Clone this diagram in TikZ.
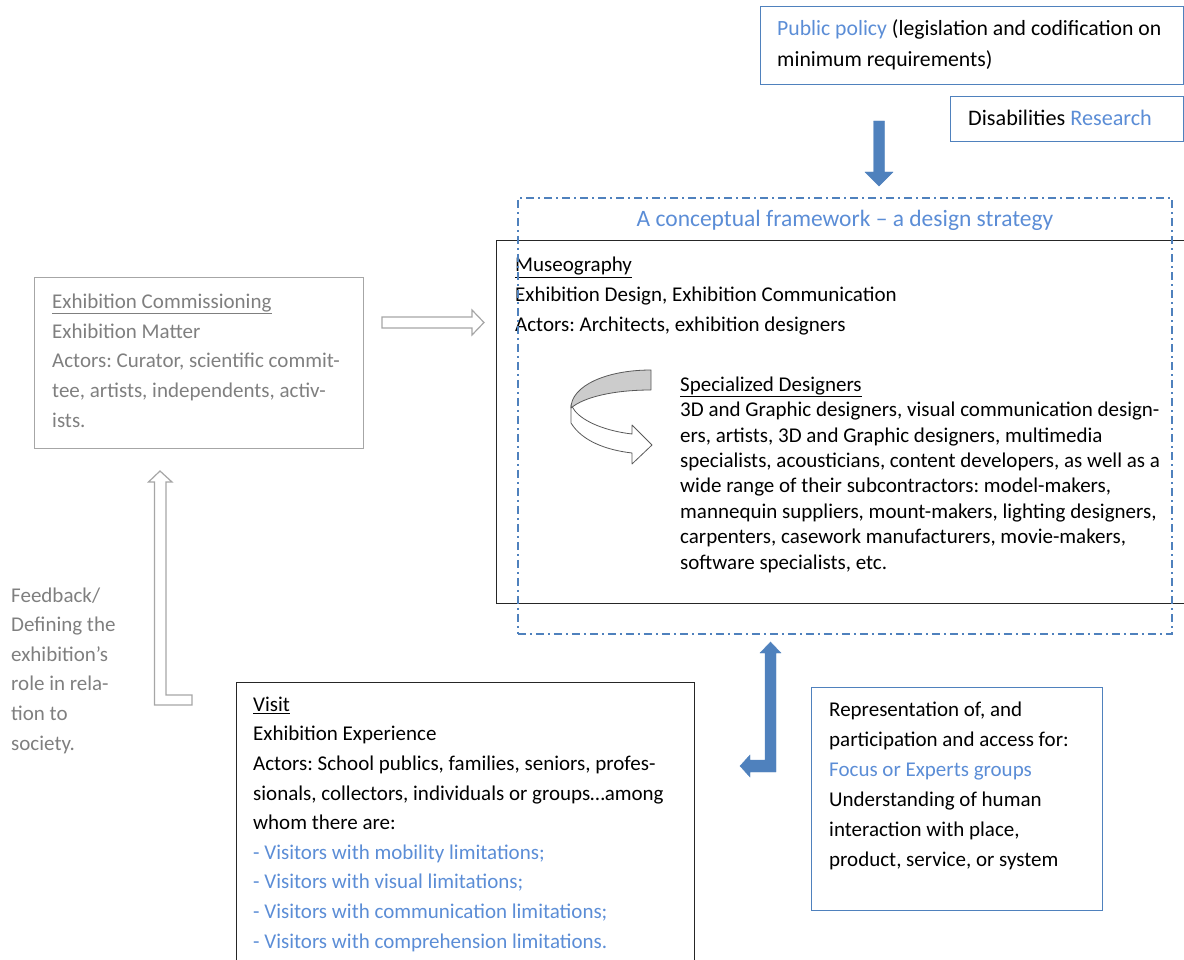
\documentclass[tikz,border=0pt]{standalone}
\usepackage{fontspec}
\setmainfont{Carlito}
\usetikzlibrary{calc}
\frenchspacing
\definecolor{boxblue}{HTML}{4F81BD}
\definecolor{textblue}{HTML}{5B8DD6}
\definecolor{textgray}{HTML}{7F7F7F}
\definecolor{linegray}{HTML}{A6A6A6}
\tikzset{
  % Frames of the boxes: black, blue, gray and dash-dotted
  black box/.style={rectangle,draw=black!85,line width=1.4pt,anchor=north west,inner sep=0},
  blue box/.style={rectangle,draw=boxblue,line width=1.2pt,anchor=north west,inner sep=0},
  gray box/.style={rectangle,draw=linegray,line width=1.3pt,anchor=north west,inner sep=0},
  frame box/.style={rectangle,draw=boxblue,line width=1.6pt,anchor=north west,inner sep=0,
    dash pattern=on 8pt off 4pt on 2pt off 4pt},
  % Text set inside the boxes (placed at the baseline of the last line)
  box text/.style={anchor=base west,align=left,inner sep=0,font=\fontsize{21}{29.6}\selectfont},
  % Block arrows: filled blue and hollow gray
  block arrow/.style={fill=boxblue,draw=boxblue,line width=0.4pt},
  hollow arrow/.style={draw=linegray,fill=white,line width=1.2pt,line join=miter}
}

\begin{document}
\begin{tikzpicture}[x=1pt,y=-1pt]
  \useasboundingbox (0,0) rectangle (1184,960);
  \clip (0,0) rectangle (1184,960);
  % The boxes
  \node[blue box,minimum width=423,minimum height=78](policy) at (760,6){};
  \node[blue box,minimum width=233,minimum height=45](research) at (950,96){};
  \node[black box,minimum width=700,minimum height=363](museo) at (496,240){};
  \node[gray box,minimum width=329,minimum height=171](commission) at (34,277){};
  \node[black box,minimum width=458,minimum height=300](visit) at (236,682){};
  \node[blue box,minimum width=291,minimum height=223](groups) at (811,687){};
  % Texts
  \node[box text,font=\fontsize{21.7}{31}\selectfont](policy text) at (777,67)
    {{\color{textblue}Public policy} (legislation and codification on\\minimum requirements)};
  \node[box text,font=\fontsize{22.2}{30}\selectfont](research text) at (968,126)
    {Disabilities {\color{textblue}Research}};
  \node[box text,anchor=base,text=textblue,font=\fontsize{23.5}{30}\selectfont](framework text)
    at (845,227) {A conceptual framework -- a design strategy};
  \node[box text](museo text) at (515,331)
    {\underline{Museography}\\Exhibition Design, Exhibition Communication\\Actors: Architects, exhibition designers};
  \node[box text,font=\fontsize{21}{25.4}\selectfont](designers text) at (680,569)
    {\underline{Specialized Designers}\\
     3D and Graphic designers, visual communication design-\\
     ers, artists, 3D and Graphic designers, multimedia\\
     specialists, acousticians, content developers, as well as a\\
     wide range of their subcontractors: model-makers,\\
     mannequin suppliers, mount-makers, lighting designers,\\
     carpenters, casework manufacturers, movie-makers,\\
     software specialists, etc.};
  \node[box text,text=textgray](commission text) at (52,427)
    {\underline{Exhibition Commissioning}\\Exhibition Matter\\Actors: Curator, scientific commit-\\
     tee, artists, independents, activ-\\ists.};
  \node[box text,text=textgray](feedback text) at (11,750)
    {Feedback/\\Defining the\\exhibition’s\\role in rela-\\tion to\\society.};
  \node[box text](visit text) at (253,948)
    {\underline{Visit}\\Exhibition Experience\\Actors: School publics, families, seniors, profes-\\
     sionals, collectors, individuals or groups…among\\whom there are:\\
     {\color{textblue}- Visitors with mobility limitations;}\\
     {\color{textblue}- Visitors with visual limitations;}\\
     {\color{textblue}- Visitors with communication limitations;}\\
     {\color{textblue}- Visitors with comprehension limitations.}};
  \node[box text,font=\fontsize{21}{30}\selectfont](groups text) at (829,866)
    {Representation of, and\\participation and access for:\\{\color{textblue}Focus or Experts groups}\\
     Understanding of human\\interaction with place,\\product, service, or system};
  % dash-dotted frame round the museography
  \node[frame box,minimum width=654,minimum height=436](framework) at (517,197){};
  % Arrows
  \draw[block arrow] (873.5,121) -- (884.5,121) -- (884.5,172) -- (893,172) -- (879,186)
    -- (865,172) -- (873.5,172) -- cycle;
  \draw[block arrow] (770.5,642) -- (781,653) -- (776,653) -- (776,772) -- (750,772) -- (750,777)
    -- (740,766) -- (750,755) -- (750,760) -- (765,760) -- (765,653) -- (760,653) -- cycle;
  \draw[hollow arrow] (382,317) -- (472,317) -- (472,310) -- (484,322.5) -- (472,335) -- (472,328)
    -- (382,328) -- cycle;
  \draw[hollow arrow] (154.5,705) -- (192,705) -- (192,695) -- (166,695) -- (166,482) -- (172,482)
    -- (160,471) -- (148.5,482) -- (154.5,482) -- cycle;
  % curved ribbon arrow
  \draw[draw=black!65,fill=white,line width=0.8pt,line join=round]
    (571,405) -- (571,423) .. controls (582,441) and (606,450) .. (632,453) -- (632,464) -- (652,445)
    -- (632,425) -- (632,434) .. controls (606,431) and (584,422) .. (575,411) -- cycle;
  \draw[draw=black!65,fill=black!20,line width=0.8pt,line join=round]
    (651,370) .. controls (606,370) and (571,386) .. (571,408)
    .. controls (584,397) and (614,390) .. (651,390) -- cycle;
\end{tikzpicture}
\end{document}
